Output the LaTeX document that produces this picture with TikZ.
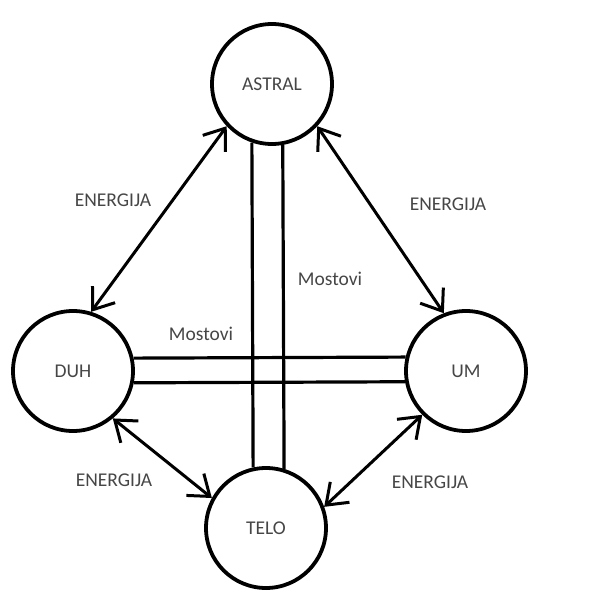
\documentclass[tikz,border=0pt]{standalone}
\usepackage{fontspec}
\setmainfont{Carlito}
\usetikzlibrary{arrows.meta}
\definecolor{txt}{RGB}{70,70,70}
\tikzset{
  realm/.style={circle, draw=black, line width=3.8pt, minimum size=120pt, inner sep=0pt,
    font=\fontsize{19.5}{21}\selectfont, text=txt},
  lbl/.style={font=\fontsize{19.5}{21}\selectfont, text=txt, inner sep=0pt},
  energy/.style={line width=3pt, {Straight Barb[length=19pt,width=28pt,line width=3pt]}-{Straight Barb[length=19pt,width=28pt,line width=3pt]}},
  bridge/.style={line width=3.2pt}
}
\begin{document}
\begin{tikzpicture}[x=1pt,y=-1pt]
\useasboundingbox (0,0) rectangle (592,604);
\node[realm] (astral) at (272,84) {ASTRAL};
\node[realm] (duh) at (73,371) {DUH};
\node[realm] (um) at (466,371) {UM};
\node[realm] (telo) at (266,528) {TELO};
% bridges
\draw[bridge] (astral.251.9) -- (telo.102.5);
\draw[bridge] (astral.280.4) -- (telo.73.5);
\draw[bridge] (duh.12.3) -- (um.167.7);
\draw[bridge] (duh.349.6) -- (um.190.4);
% energy arrows
\draw[energy] (astral.223.6) -- (duh.73.7);
\draw[energy] (astral.317) -- (um.111.6);
\draw[energy] (duh.310) -- (telo.151);
\draw[energy] (um.225.7) -- (telo.20.6);
% labels
\node[lbl] (e1) at (113,200) {ENERGIJA};
\node[lbl] (e2) at (448,204) {ENERGIJA};
\node[lbl] (e3) at (114,480) {ENERGIJA};
\node[lbl] (e4) at (430,482) {ENERGIJA};
\node[lbl] (m1) at (330,279) {Mostovi};
\node[lbl] (m2) at (201,334) {Mostovi};
\end{tikzpicture}
\end{document}
